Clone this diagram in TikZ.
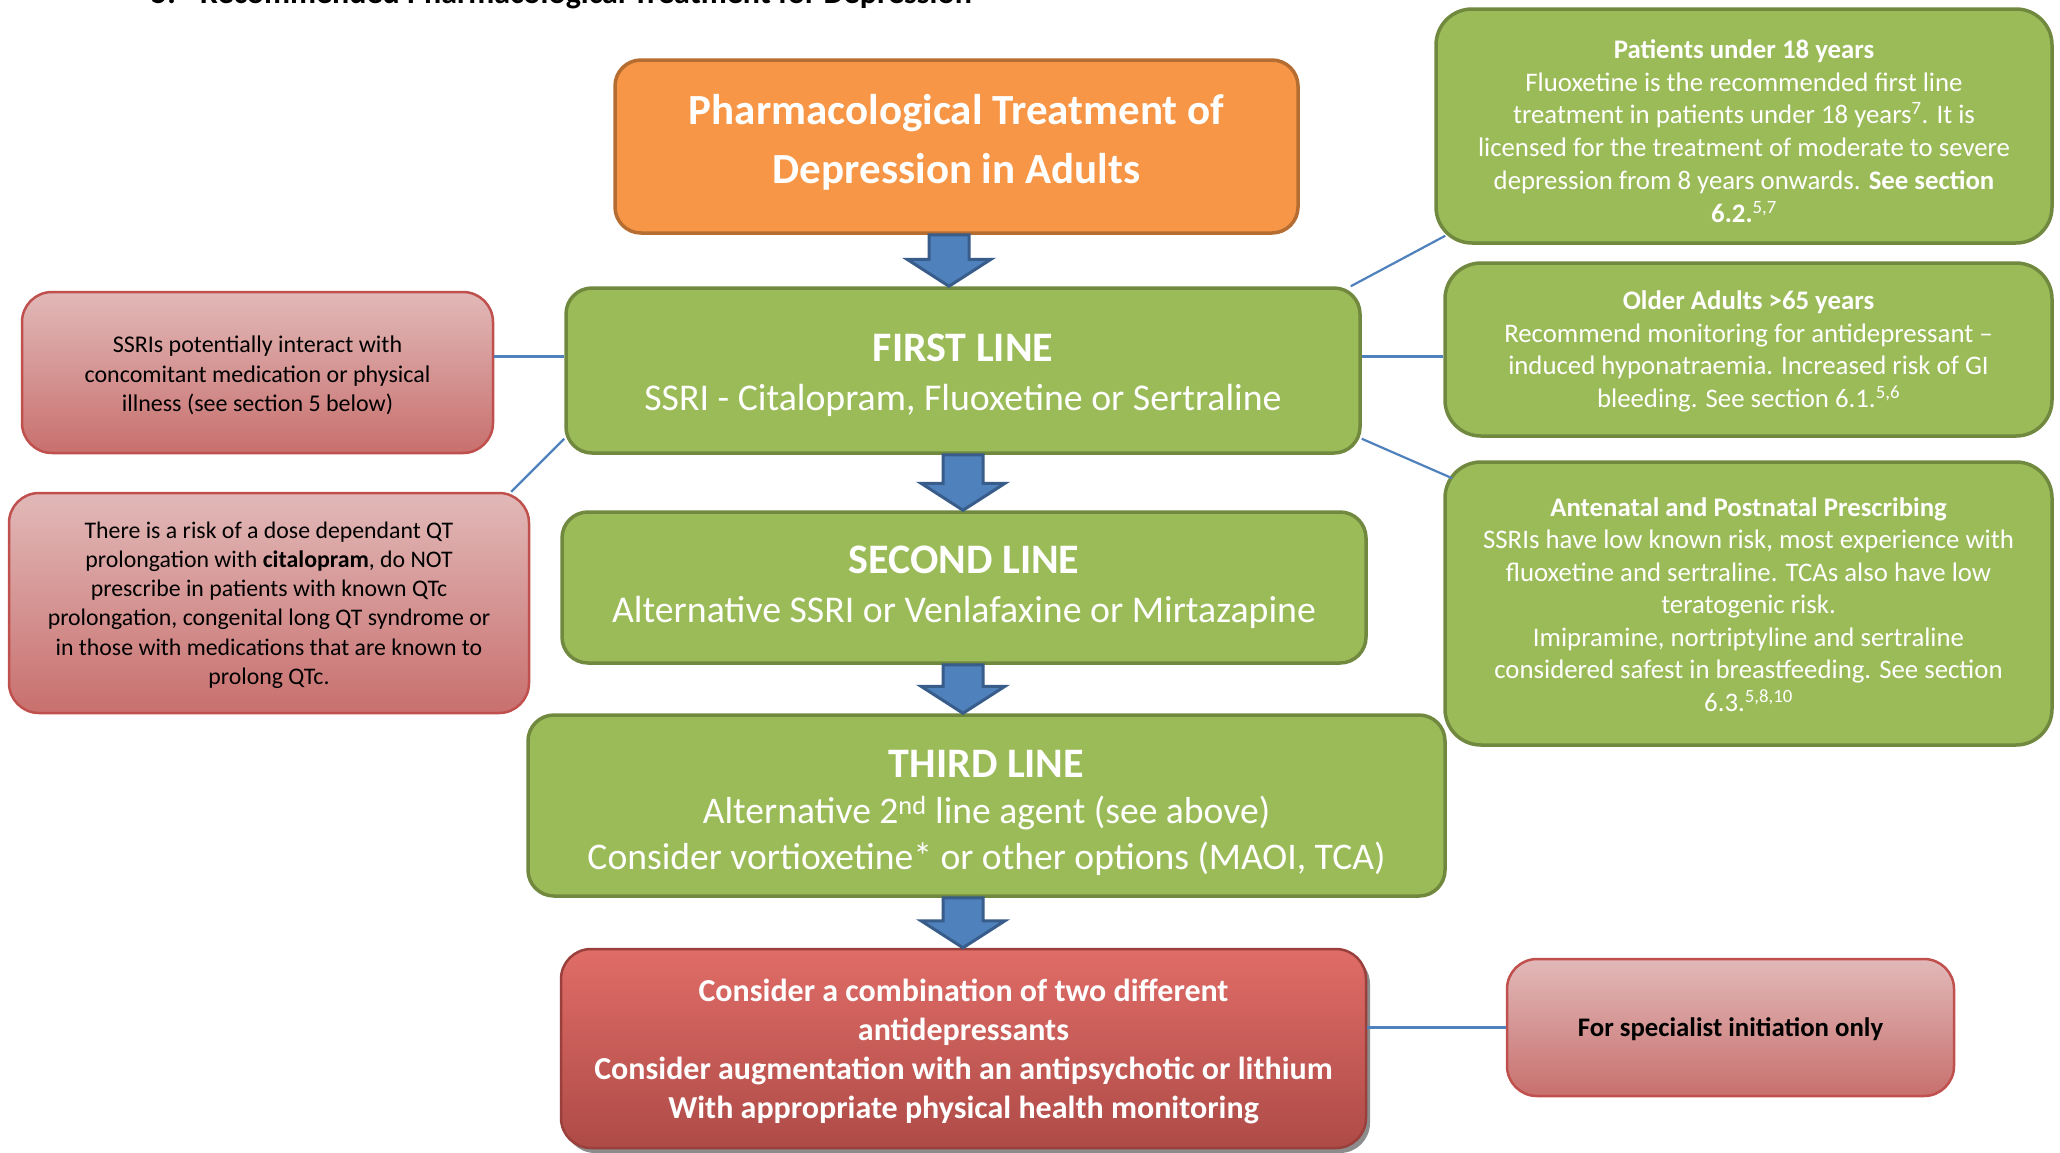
\documentclass[tikz,border=0pt]{standalone}
\usepackage{fontspec}
\setmainfont{Carlito}
\usetikzlibrary{calc,shadows}
\definecolor{gfill}{HTML}{9BBB59}
\definecolor{gborder}{HTML}{71893F}
\definecolor{ofill}{HTML}{F79646}
\definecolor{oborder}{HTML}{B66D31}
\definecolor{afill}{HTML}{4F81BD}
\definecolor{aborder}{HTML}{385D8A}
\definecolor{pinktop}{HTML}{E1B9B8}
\definecolor{pinkbot}{HTML}{C8706E}
\definecolor{pborder}{HTML}{C0504D}
\definecolor{ctop}{HTML}{E06C67}
\definecolor{cbot}{HTML}{AE4B47}
\definecolor{cborder}{HTML}{9A403C}
\definecolor{linkc}{HTML}{4F81BD}
\newcommand\fsz[2]{\fontsize{#1}{#2}\selectfont}
\newcommand\barrow[3]{%
  \draw[blockarrow] let \p1=(#1.south), \p2=(#2.north), \p3=(#3,0) in
    (\x3-20pt,\y1) -- (\x3+20pt,\y1) -- (\x3+20pt,\y2+27pt) -- (\x3+42pt,\y2+27pt)
    -- (\x3,\y2) -- (\x3-42pt,\y2+27pt) -- (\x3-20pt,\y2+27pt) -- cycle;}
\begin{document}
\begin{tikzpicture}[x=1pt,y=-1pt,
  boxbase/.style={rectangle,inner sep=0pt},
  txt/.style={align=center,inner sep=0pt},
  greenbox/.style={boxbase,rounded corners=26pt,fill=gfill,draw=gborder,line width=3.5pt},
  sidegreen/.style={greenbox,rounded corners=36pt},
  orangebox/.style={boxbase,rounded corners=26pt,fill=ofill,draw=oborder,line width=3.5pt},
  pinkbox/.style={boxbase,rounded corners=30pt,top color=pinktop,bottom color=pinkbot,draw=pborder,line width=2.5pt},
  combobox/.style={boxbase,rounded corners=30pt,top color=ctop,bottom color=cbot,draw=cborder,line width=2.5pt,
    drop shadow={shadow xshift=4pt,shadow yshift=-5pt,opacity=0.45,fill=black}},
  whitetxt/.style={txt,text=white},
  blacktxt/.style={txt,text=black},
  blockarrow/.style={fill=afill,draw=aborder,line width=3pt,line join=miter},
  link/.style={draw=linkc,line width=2.2pt}]
\useasboundingbox (0,0) rectangle (2060,1152);
\fill[white] (0,0) rectangle (2060,1152);

% cut-off heading
\node[anchor=base west,inner sep=0pt,font=\bfseries\fsz{32}{38}] (head) at (151,3)
  {5.\hspace{24pt}Recommended Pharmacological Treatment for Depression};

% main column boxes
\node[orangebox,minimum width=683pt,minimum height=173pt] (orange) at (956.5,146.5) {};
\node[greenbox,minimum width=794pt,minimum height=165pt] (first) at (963,370.5) {};
\node[greenbox,minimum width=804pt,minimum height=151pt] (second) at (964,587.5) {};
\node[greenbox,minimum width=917pt,minimum height=181pt] (third) at (986.5,805.5) {};
\node[combobox,minimum width=805pt,minimum height=199pt] (combo) at (963.5,1048.5) {};

\node[whitetxt,font=\bfseries\fsz{43}{59}] (orangetxt) at ($(orange.center)+(0,-4)$)
  {Pharmacological Treatment of\\Depression in Adults};
\node[whitetxt,font=\fsz{37.8}{49}] (firsttxt) at ($(first.center)+(0,5)$)
  {{\bfseries\fsz{42}{49}FIRST LINE}\\SSRI - Citalopram, Fluoxetine or Sertraline};
\node[whitetxt,font=\fsz{37.8}{49}] (secondtxt) at ($(second.center)+(0,0)$)
  {{\bfseries\fsz{42}{49}SECOND LINE}\\Alternative SSRI or Venlafaxine or Mirtazapine};
\node[whitetxt,font=\fsz{37.6}{46}] (thirdtxt) at ($(third.center)+(0,7)$)
  {{\bfseries\fsz{42}{49}THIRD LINE}\\Alternative 2\textsuperscript{nd} line agent (see above)\\Consider vortioxetine* or other options (MAOI, TCA)};
\node[whitetxt,font=\bfseries\fsz{32}{39}] (combotxt) at ($(combo.center)+(0,3)$)
  {Consider a combination of two different\\antidepressants\\Consider augmentation with an antipsychotic or lithium\\With appropriate physical health monitoring};

% left notes
\node[pinkbox,minimum width=471pt,minimum height=161pt] (left1) at (257.5,372.5) {};
\node[pinkbox,minimum width=520pt,minimum height=220pt] (left2) at (269,603) {};
\node[blacktxt,font=\fsz{24}{29.5}] (left1txt) at ($(left1.center)+(0,3)$)
  {SSRIs potentially interact with\\concomitant medication or physical\\illness (see section 5 below)};
\node[blacktxt,font=\fsz{23.8}{29.2}] (left2txt) at ($(left2.center)+(0,2)$)
  {There is a risk of a dose dependant QT\\prolongation with \textbf{citalopram}, do NOT\\prescribe in patients with known QTc\\prolongation, congenital long QT syndrome or\\in those with medications that are known to\\prolong QTc.};

% right notes
\node[sidegreen,minimum width=616pt,minimum height=234pt] (rA) at (1744,126) {};
\node[sidegreen,minimum width=607pt,minimum height=173pt] (rB) at (1748.5,349.5) {};
\node[sidegreen,minimum width=607pt,minimum height=283pt] (rC) at (1748.5,603.5) {};
\node[whitetxt,font=\fsz{26.8}{32.7}] (rAtxt) at ($(rA.center)+(0,5)$)
  {\textbf{Patients under 18 years}\\Fluoxetine is the recommended first line\\treatment in patients under 18 years\textsuperscript{7}. It is\\licensed for the treatment of moderate to severe\\depression from 8 years onwards. \textbf{See section}\\\textbf{6.2.}\textsuperscript{5,7}};
\node[whitetxt,font=\fsz{26.8}{32.5}] (rBtxt) at ($(rB.center)+(0,2)$)
  {\textbf{Older Adults >65 years}\\Recommend monitoring for antidepressant –\\induced hyponatraemia. Increased risk of GI\\bleeding. See section 6.1.\textsuperscript{5,6}};
\node[whitetxt,font=\fsz{26.8}{32.5}] (rCtxt) at ($(rC.center)+(0,1)$)
  {\textbf{Antenatal and Postnatal Prescribing}\\SSRIs have low known risk, most experience with\\fluoxetine and sertraline. TCAs also have low\\teratogenic risk.\\Imipramine, nortriptyline and sertraline\\considered safest in breastfeeding. See section\\6.3.\textsuperscript{5,8,10}};

\node[pinkbox,minimum width=447pt,minimum height=137pt] (spec) at (1730.5,1027.5) {};
\node[blacktxt,font=\bfseries\fsz{26.8}{30}] (spectxt) at ($(spec.center)+(0,2)$)
  {For specialist initiation only};

% block arrows
\barrow{orange}{first}{949}
\barrow{first}{second}{963}
\barrow{second}{third}{963}
\barrow{third}{combo}{963}

% links
\draw[link] ([yshift=16pt]left1.east) -- ([yshift=16pt]left1.east -| first.west);
\draw[link] ([xshift=-19pt]left2.north east) -- ([yshift=16pt]first.south west);
\draw[link] ([xshift=-11pt]first.north east) -- ([xshift=11pt,yshift=9pt]rA.south west);
\draw[link] ([yshift=14pt]first.east) -- ([yshift=14pt]first.east -| rB.west);
\draw[link] ([yshift=16pt]first.south east) -- ([xshift=9pt,yshift=-18pt]rC.north west);
\draw[link] (combo.east |- spec.west) -- (spec.west);
\end{tikzpicture}
\end{document}
